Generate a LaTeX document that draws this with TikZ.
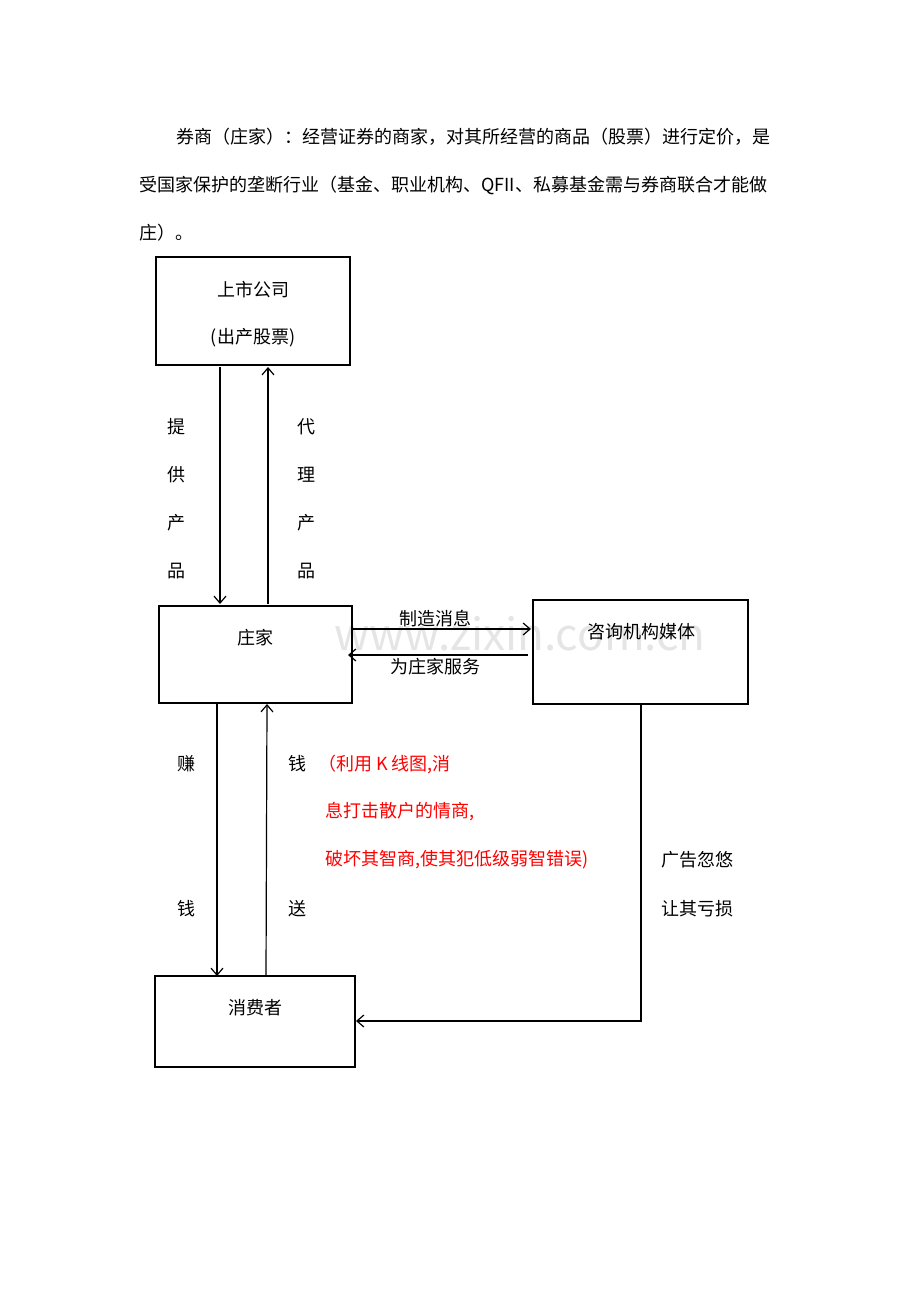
\documentclass[tikz,border=0pt]{standalone}
\usepackage{fontspec}
\setmainfont{Noto Sans CJK SC}
\usetikzlibrary{arrows.meta,positioning}
\begin{document}
\begin{tikzpicture}[x=1pt,y=-1pt,font=\fontsize{18}{20}\selectfont,
    box/.style={draw,line width=1.2pt,inner sep=0pt},
    lbl/.style={inner sep=0pt},
    link/.style={line width=1.2pt,-{Straight Barb[length=7pt,width=12pt,line width=1.2pt]}}]
  \useasboundingbox (0,0) rectangle (920,1302);
  % watermark
  \node[lbl,text=black!10,font=\fontsize{44}{44}\selectfont] (wm) at (520,634) {www.zixin.com.cn};
  % heading text
  \node[lbl,anchor=west] (p1) at (176,137) {券商（庄家）：经营证券的商家，对其所经营的商品（股票）进行定价，是};
  \node[lbl,anchor=west] (p2) at (139,185) {受国家保护的垄断行业（基金、职业机构、QFII、私募基金需与券商联合才能做};
  \node[lbl,anchor=west] (p3) at (139,233) {庄）。};
  % boxes
  \draw[box] (156,257) rectangle (350,365);
  \node[lbl] (ss) at (253,290) {上市公司};
  \node[lbl] (ss2) at (253,338) {(出产股票)};
  \draw[box] (159,606) rectangle (352,703);
  \node[lbl] (zj) at (255,638) {庄家};
  \draw[box] (533,600) rectangle (748,704);
  \node[lbl] (zx) at (641,632) {咨询机构媒体};
  \draw[box] (155,976) rectangle (355,1067);
  \node[lbl] (xf) at (255,1008) {消费者};
  % connectors
  \coordinate (a1) at (220,367); \coordinate (a2) at (220,604);
  \coordinate (b1) at (268,604); \coordinate (b2) at (268,367);
  \coordinate (c1) at (352,629); \coordinate (c2) at (531,629);
  \coordinate (d1) at (528,655); \coordinate (d2) at (348,655);
  \coordinate (e1) at (217,704); \coordinate (e2) at (217,976);
  \coordinate (f1) at (266,976); \coordinate (f2) at (267,704);
  \coordinate (g1) at (641,704); \coordinate (g2) at (641,1021); \coordinate (g3) at (356,1021);
  \draw[link] (a1) -- (a2);
  \draw[link] (b1) -- (b2);
  \draw[link] (c1) -- (c2);
  \draw[link] (d1) -- (d2);
  \draw[link] (e1) -- (e2);
  \draw[link] (f1) -- (f2);
  \draw[link] (g1) -- (g2) -- (g3);
  % labels
  \foreach \t [count=\i] in {提,供,产,品}
    \node[lbl] (l\i) at (176,379+48*\i) {\t};
  \foreach \t [count=\i] in {代,理,产,品}
    \node[lbl] (r\i) at (306,379+48*\i) {\t};
  \node[lbl] (m1) at (435,619) {制造消息};
  \node[lbl] (m2) at (435,667) {为庄家服务};
  \node[lbl] (z1) at (186,764) {赚};
  \node[lbl] (z2) at (186,909) {钱};
  \node[lbl] (s1) at (297,764) {钱};
  \node[lbl] (s2) at (297,909) {送};
  \node[lbl,anchor=west,red] (h1) at (318,764) {（利用 K 线图,消};
  \node[lbl,anchor=west,red] (h2) at (325,812) {息打击散户的情商,};
  \node[lbl,anchor=west,red] (h3) at (325,860) {破坏其智商,使其犯低级弱智错误)};
  \node[lbl] (k1) at (697,860) {广告忽悠};
  \node[lbl] (k2) at (697,909) {让其亏损};
\end{tikzpicture}
\end{document}
